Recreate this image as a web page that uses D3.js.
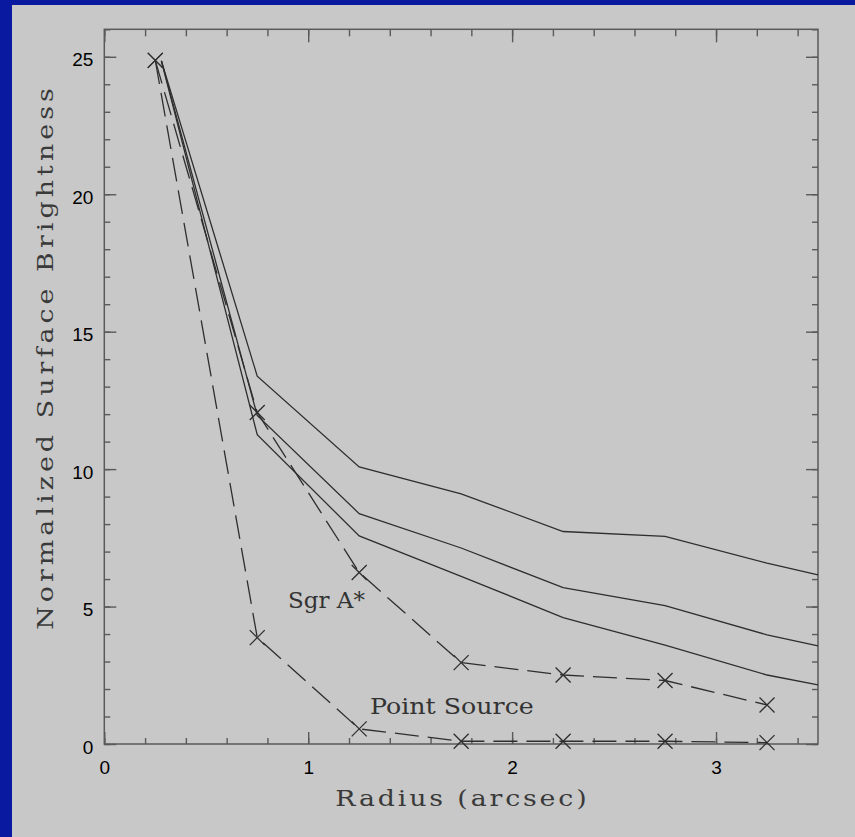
<!DOCTYPE html>
<html lang="en">
<head>
    <meta charset="UTF-8">
    <script src="https://cdn.jsdelivr.net/npm/d3@7"></script>
    <title>Surface brightness</title>
    <style>
        body { margin: 0; background: #c8c8c8; }
        .tick text { font-family: "Liberation Sans", Arial, sans-serif; font-size: 19px; fill: #000; }
        .tick line { stroke: #5a5a5a; stroke-width: 1.4px; }
        .domain { display: none; }
        .title { font-family: "DejaVu Serif", serif; font-size: 22px; fill: #3a3a3a; }
        .lbl { font-family: "DejaVu Serif", serif; font-size: 23px; fill: #333; }
    </style>
</head>
<body>
<svg id="chart" width="855" height="837"></svg>
<script>
    // radii of the measured points (arcsec)
    const radii = [0.25, 0.75, 1.25, 1.75, 2.25, 2.75, 3.25];
    const sgrA = [24.87, 12.06, 6.24, 2.96, 2.51, 2.31, 1.42];
    const pointSource = [24.87, 3.87, 0.55, 0.1, 0.1, 0.1, 0.05];

    // solid model curves
    const modelRadii = [0.28, 0.75, 1.25, 1.75, 2.25, 2.75, 3.25, 3.5];
    const modelHigh = [24.85, 13.38, 10.08, 9.1, 7.73, 7.55, 6.58, 6.15];
    const modelMid = [24.85, 11.95, 8.38, 7.13, 5.69, 5.03, 3.97, 3.57];
    const modelLow = [24.85, 11.25, 7.57, 6.1, 4.6, 3.6, 2.51, 2.15];

    const xTicks = [0, 1, 2, 3];
    const yTicks = [0, 5, 10, 15, 20, 25];

    const svg = d3.select('#chart');
    const W = 855, H = 837;

    svg.append('rect').attr('width', W).attr('height', H).attr('fill', '#0a1aa0');
    svg.append('rect').attr('x', 12).attr('y', 5).attr('width', W - 12).attr('height', H - 5).attr('fill', '#c8c8c8');

    const pL = 104.3, pR = 818, pT = 29.3, pB = 744;
    const x = d3.scaleLinear().domain([0, 3.5]).range([pL, pR]);
    const y = d3.scaleLinear().domain([0, 26]).range([pB, pT]);

    const minorX = d3.range(0, 3.45, 0.2);
    const minorY = d3.range(0, 27, 1);

    // ticks, all pointing inward
    svg.append('g').attr('transform', `translate(0,${pB})`)
        .call(d3.axisBottom(x).tickValues(minorX).tickSize(-6).tickFormat(''));
    svg.append('g').attr('transform', `translate(0,${pB})`)
        .call(d3.axisBottom(x).tickValues(xTicks).tickSize(-12).tickSizeOuter(0).tickPadding(17).tickFormat(d3.format('d')));
    svg.append('g').attr('transform', `translate(0,${pT})`)
        .call(d3.axisTop(x).tickValues(minorX).tickSize(-7).tickFormat(''));
    svg.append('g').attr('transform', `translate(0,${pT})`)
        .call(d3.axisTop(x).tickValues(xTicks).tickSize(-13).tickFormat(''));

    svg.append('g').attr('transform', `translate(${pL},0)`)
        .call(d3.axisLeft(y).tickValues(minorY).tickSize(-6).tickFormat(''));
    svg.append('g').attr('transform', `translate(${pL},0)`)
        .call(d3.axisLeft(y).tickValues(yTicks).tickSize(-12).tickSizeOuter(0).tickPadding(11).tickFormat(d3.format('d')))
        .selectAll('text').attr('dy', '0.48em');
    svg.append('g').attr('transform', `translate(${pR},0)`)
        .call(d3.axisRight(y).tickValues(minorY).tickSize(-6).tickFormat(''));
    svg.append('g').attr('transform', `translate(${pR},0)`)
        .call(d3.axisRight(y).tickValues(yTicks).tickSize(-12).tickFormat(''));

    svg.append('rect')
        .attr('x', pL).attr('y', pT)
        .attr('width', pR - pL).attr('height', pB - pT)
        .attr('fill', 'none').attr('stroke', '#5a5a5a').attr('stroke-width', 1.5);

    const line = d3.line().x(d => x(d[0])).y(d => y(d[1]));

    [modelHigh, modelMid, modelLow].forEach(vals => {
        svg.append('path')
            .attr('d', line(modelRadii.map((r, i) => [r, vals[i]])))
            .attr('fill', 'none').attr('stroke', '#2e2e2e').attr('stroke-width', 1.3);
    });

    [sgrA, pointSource].forEach(vals => {
        const pts = radii.map((r, i) => [r, vals[i]]);
        svg.append('path')
            .attr('d', line(pts))
            .attr('fill', 'none').attr('stroke', '#2e2e2e').attr('stroke-width', 1.3)
            .attr('stroke-dasharray', '24,9');
        const s = 7.5;
        svg.append('g').selectAll('path').data(pts).join('path')
            .attr('d', d => {
                const px = x(d[0]), py = y(d[1]);
                return `M${px - s},${py - s}L${px + s},${py + s}M${px - s},${py + s}L${px + s},${py - s}`;
            })
            .attr('stroke', '#2e2e2e').attr('stroke-width', 1.3);
    });

    svg.append('text').attr('class', 'lbl')
        .attr('transform', 'translate(288,608)')
        .text('Sgr A*');
    svg.append('text').attr('class', 'lbl')
        .attr('transform', 'translate(370,714) scale(1.1,1)')
        .text('Point Source');

    svg.append('text').attr('class', 'title')
        .attr('transform', 'translate(461,806) scale(1.22,1)')
        .attr('text-anchor', 'middle')
        .attr('textLength', 206).attr('lengthAdjust', 'spacing')
        .text('Radius (arcsec)');
    svg.append('text').attr('class', 'title')
        .attr('transform', 'translate(53,359) rotate(-90) scale(1.22,1)')
        .attr('text-anchor', 'middle')
        .attr('textLength', 444).attr('lengthAdjust', 'spacing')
        .text('Normalized Surface Brightness');
</script>
</body>
</html>
